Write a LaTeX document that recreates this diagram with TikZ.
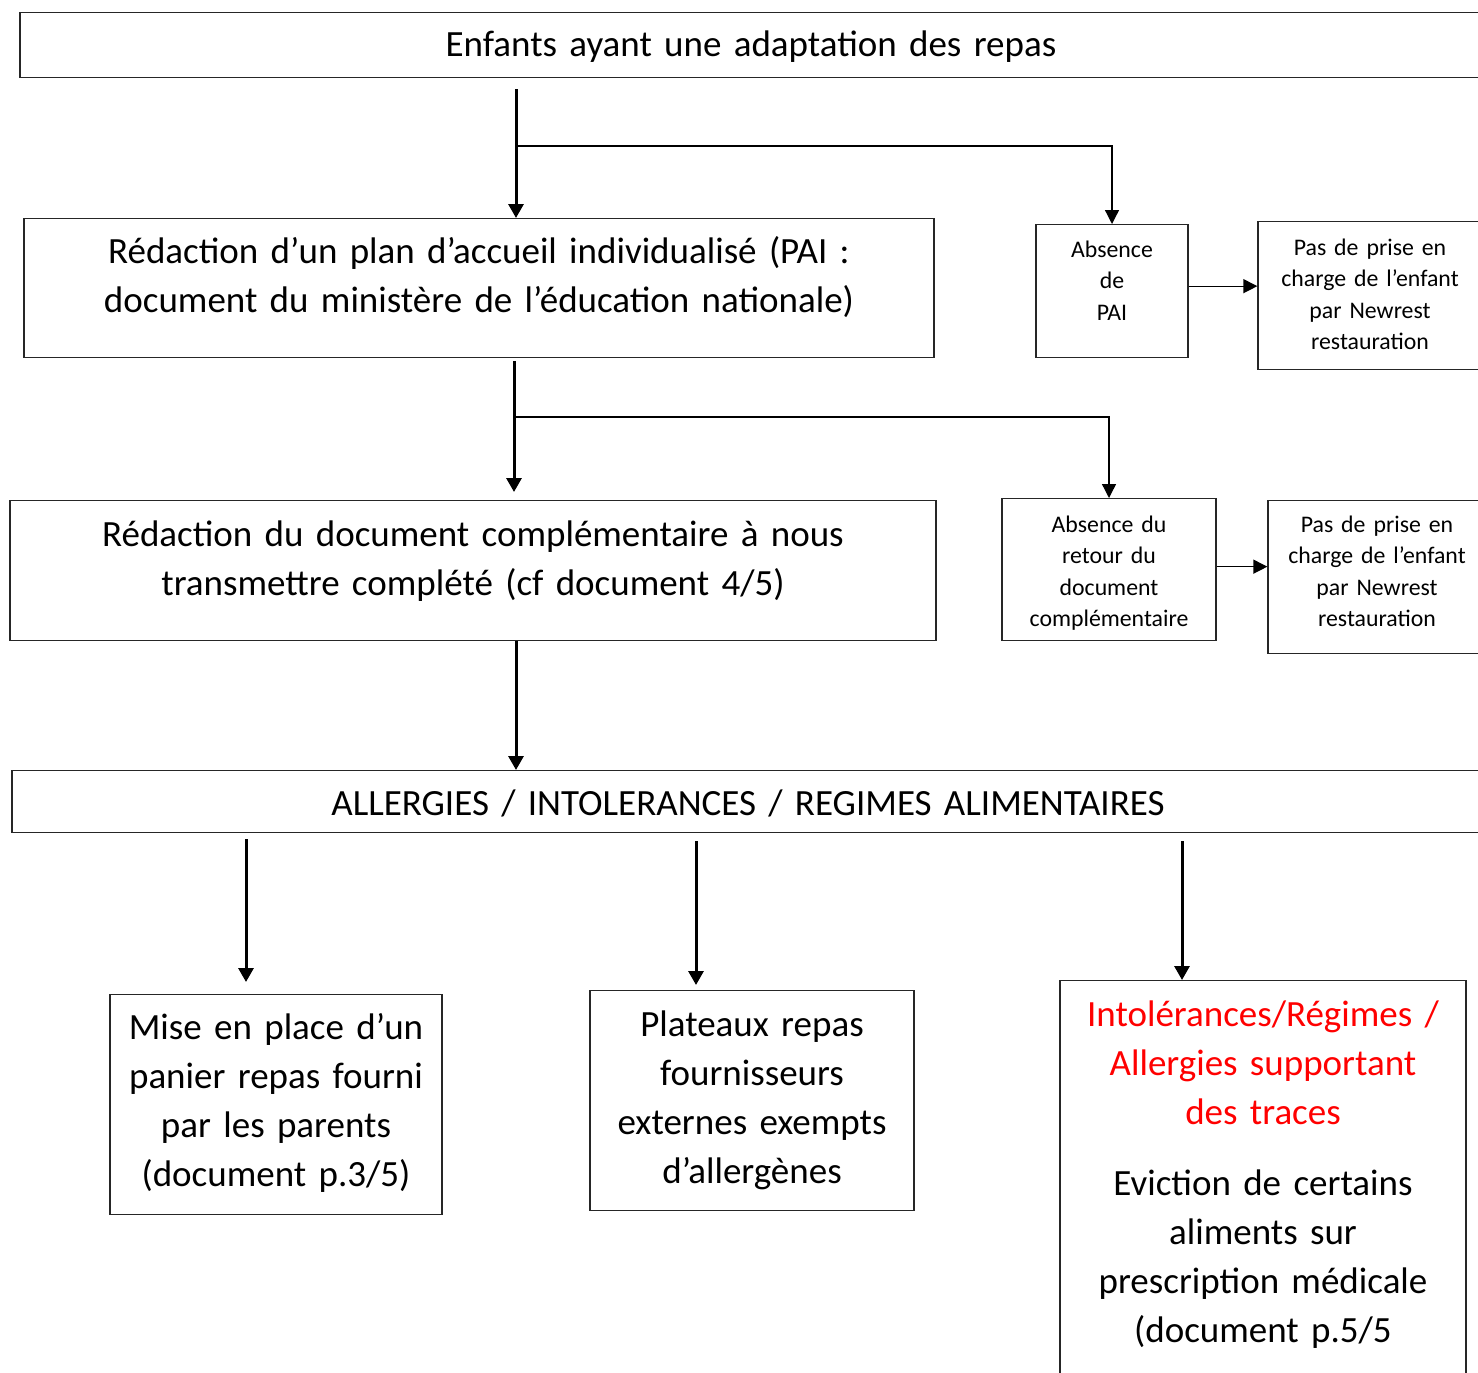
\documentclass[tikz,border=0pt]{standalone}
\usepackage{fontspec}
\setmainfont{Carlito}
\usetikzlibrary{arrows.meta}

\begin{document}
\begin{tikzpicture}[x=0.5pt, y=-0.5pt,
    box/.style={draw=black!85, line width=0.65pt, inner sep=0pt, align=center, anchor=north},
    big/.style={font={\fontsize{18.5}{24.5}\selectfont\spaceskip=0.18em}},
    small/.style={font={\fontsize{11.9}{15.6}\selectfont\spaceskip=0.15em}},
    flow/.style={line width=1.5pt, -{Triangle[length=7pt, width=7.5pt]}},
    side/.style={line width=0.65pt, -{Triangle[length=7pt, width=7pt]}}]

        \useasboundingbox (0,0) rectangle (1478,1372);
        \clip (0,0) rectangle (1478,1372);

        \coordinate (c1) at (516,0);
        \coordinate (c2) at (514,0);
        \coordinate (j1) at (516,146);
        \coordinate (j2) at (514,417);
        \coordinate (d1) at (246,0);
        \coordinate (d2) at (696,0);
        \coordinate (d3) at (1182,0);

        % boxes
        \node[box, big, text width=731pt, text height=22pt, text depth=10.5pt] (enfants) at (751,12)
            {Enfants ayant une adaptation des repas};
        \node[box, big, text width=455pt, text height=22.5pt, text depth=47pt] (pai) at (479,218)
            {Rédaction d’un plan d’accueil individualisé (PAI :\\document du ministère de l’éducation nationale)};
        \node[box, small, text width=76pt, text height=16.5pt, text depth=50pt] (absp) at (1112,224)
            {Absence\\de\\PAI};
        \node[box, small, text width=112pt, text height=17pt, text depth=57pt] (pas1) at (1370,221)
            {Pas de prise en\\charge de l’enfant\\par Newrest\\restauration};
        \node[box, big, text width=463pt, text height=23pt, text depth=47pt] (compl) at (473,500)
            {Rédaction du document complémentaire à nous\\transmettre complété (cf document 4/5)};
        \node[box, small, text width=107pt, text height=17pt, text depth=54pt] (absr) at (1109,498)
            {Absence du\\retour du\\document\\complémentaire};
        \node[box, small, text width=109pt, text height=16pt, text depth=60.5pt] (pas2) at (1377,500)
            {Pas de prise en\\charge de l’enfant\\par Newrest\\restauration};
        \node[box, big, text width=736pt, text height=22.5pt, text depth=8.5pt] (allerg) at (748,770)
            {ALLERGIES / INTOLERANCES / REGIMES ALIMENTAIRES};
        \node[box, big, text width=166pt, text height=22.5pt, text depth=87.5pt] (mise) at (276,994)
            {Mise en place d’un\\panier repas fourni\\par les parents\\(document p.3/5)};
        \node[box, big, text width=162pt, text height=23pt, text depth=87pt] (plat) at (752,990)
            {Plateaux repas\\fournisseurs\\externes exempts\\d’allergènes};
        \node[box, big, text width=203pt, text height=23pt, text depth=197pt] (intol) at (1263,980)
            {\color{red}Intolérances/Régimes /\\Allergies supportant\\des traces\\[11pt]
             \color{black}Eviction de certains\\aliments sur\\prescription médicale\\(document p.5/5};

        % arrows
        \draw[flow, shorten <=5.5pt] (enfants.south -| c1) -- (pai.north -| c1);
        \draw[side] (j1) -| (absp.north);
        \draw[side] ([yshift=2.5pt]absp.east) -- ([yshift=2.5pt]absp.east -| pas1.west);

        \draw[flow, shorten <=1.5pt, shorten >=4pt] (pai.south -| c2) -- (compl.north -| c2);
        \draw[side] (j2) -| (absr.north);
        \draw[side] ([yshift=1.5pt]absr.east) -- ([yshift=1.5pt]absr.east -| pas2.west);

        \draw[flow] (compl.south -| c1) -- (allerg.north -| c1);

        \draw[flow, shorten <=3pt, shorten >=6pt] (allerg.south -| d1) -- (mise.north -| d1);
        \draw[flow, shorten <=4pt, shorten >=2.5pt] (allerg.south -| d2) -- (plat.north -| d2);
        \draw[flow, shorten <=4pt] (allerg.south -| d3) -- (intol.north -| d3);
\end{tikzpicture}
\end{document}
